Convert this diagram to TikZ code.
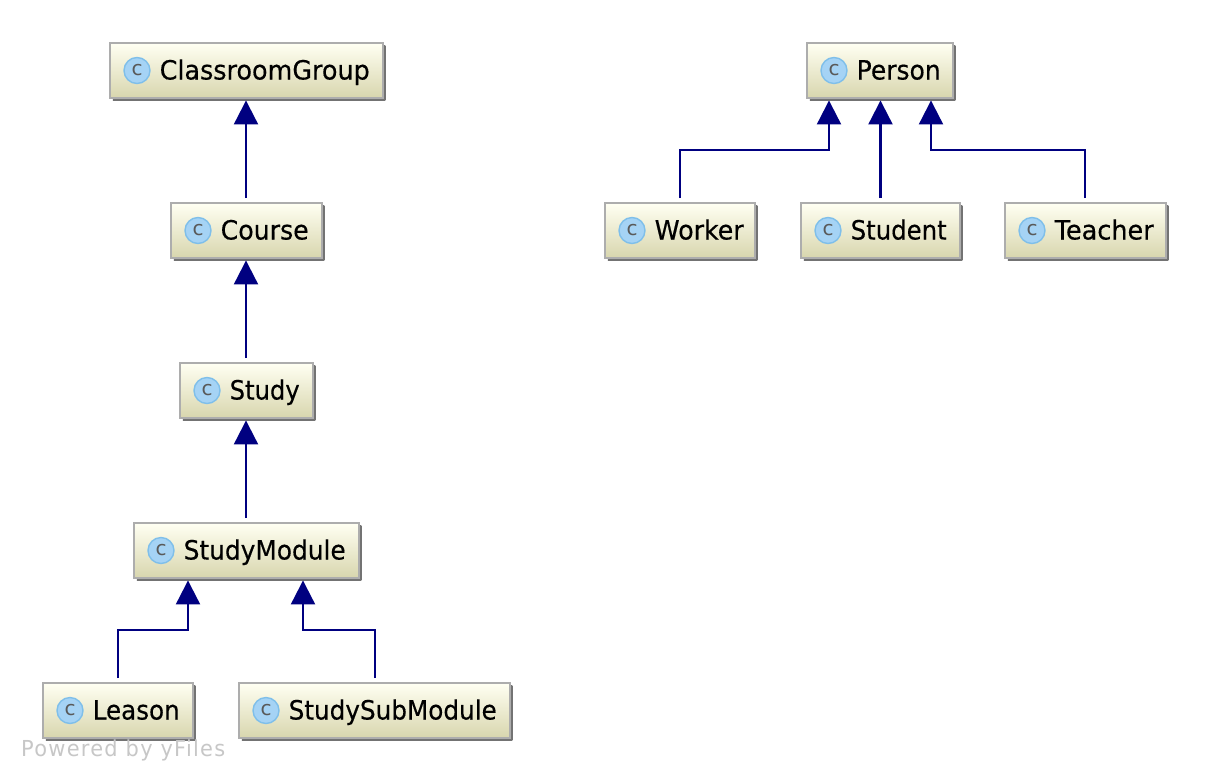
\documentclass[tikz,border=0pt]{standalone}
\usepackage{fontspec}
\usepackage{graphicx}
\setmainfont{DejaVu Sans}
\newfontfamily\namefont[FakeBold=0.4]{DejaVu Sans}
\newfontfamily\wmfont[LetterSpace=6]{DejaVu Sans}
\usetikzlibrary{arrows.meta,shadows}
\definecolor{boxline}{HTML}{ADADAD}
\definecolor{boxtop}{HTML}{FFFFF2}
\definecolor{boxbot}{HTML}{D8D6AE}
\definecolor{edgeblue}{HTML}{000080}
\definecolor{iconfill}{HTML}{A5D3F5}
\definecolor{iconline}{HTML}{7FBFEA}
\tikzset{
  classbox/.style={rectangle,draw=boxline,line width=2.4pt,top color=boxtop,bottom color=boxbot,
    inner sep=0pt,minimum height=54.5pt,
    copy shadow={shadow xshift=2.5pt,shadow yshift=-2.5pt,draw=none,fill=black!55,top color=black!55,bottom color=black!55}},
  classicon/.style={circle,draw=iconline,line width=1.4pt,fill=iconfill,minimum size=26pt,inner sep=0pt,
    text=black!65,font=\fontsize{20}{20}\selectfont},
  classname/.style={inner sep=0pt,anchor=base west,text=black,font=\namefont\fontsize{26.5}{30}\selectfont},
  edgeline/.style={draw=edgeblue,line width=2.2pt,-{Triangle[length=24pt,width=24pt]},shorten <=4pt,shorten >=1.5pt},
  watermark/.style={inner sep=0pt,anchor=base west,text=black!22,font=\wmfont\fontsize{22}{28}\selectfont}
}
\newcommand{\cls}[6]{%
  \node[classbox,minimum width={#4-#2-1.5}] (#1) at ({(#2+#4)/2-0.5},{#3+27.5}) {};
  \node[classicon] (#1i) at ({#2+27},{#3+27.5}) {c};
  \node[classname] (#1t) at ({#2+49.5},{#3+36.5}) {\resizebox{#6pt}{\height}{#5}};
}
\begin{document}
\begin{tikzpicture}[x=1pt,y=-1pt]
\useasboundingbox (0,0) rectangle (1208,780);
\cls{cg}{110}{43}{384}{ClassroomGroup}{210}
\cls{course}{171}{203}{323}{Course}{88}
\cls{study}{180}{363}{314}{Study}{70}
\cls{module}{134}{523}{360}{StudyModule}{162}
\cls{leason}{43}{683}{194}{Leason}{87}
\cls{sub}{239}{683}{511}{StudySubModule}{208}
\cls{person}{807}{43}{954}{Person}{84}
\cls{worker}{605}{203}{756}{Worker}{89}
\cls{student}{801}{203}{961}{Student}{96}
\cls{teacher}{1005}{203}{1167}{Teacher}{99}
\draw[edgeline] ([xshift=-0.5pt]course.north) -- ([xshift=-0.5pt]course.north |- cg.south);
\draw[edgeline] ([xshift=-0.5pt]study.north) -- ([xshift=-0.5pt]study.north |- course.south);
\draw[edgeline] ([xshift=-0.5pt]module.north) -- ([xshift=-0.5pt]module.north |- study.south);
\draw[edgeline] (leason.north) -- ++(0,-52) -| ([xshift=-58.5pt]module.south);
\draw[edgeline] ([xshift=0.5pt]sub.north) -- ++(0,-52) -| ([xshift=56.5pt]module.south);
\draw[edgeline] (worker.north) -- ++(0,-52) -| ([xshift=-51pt]person.south);
\draw[edgeline] (student.north) -- (person.south -| student.north);
\draw[edgeline] ([xshift=-0.5pt]teacher.north) -- ++(0,-52) -| ([xshift=51pt]person.south);
\node[watermark] (wm) at (21,756) {\resizebox{204pt}{\height}{Powered by yFiles}};
\end{tikzpicture}
\end{document}
